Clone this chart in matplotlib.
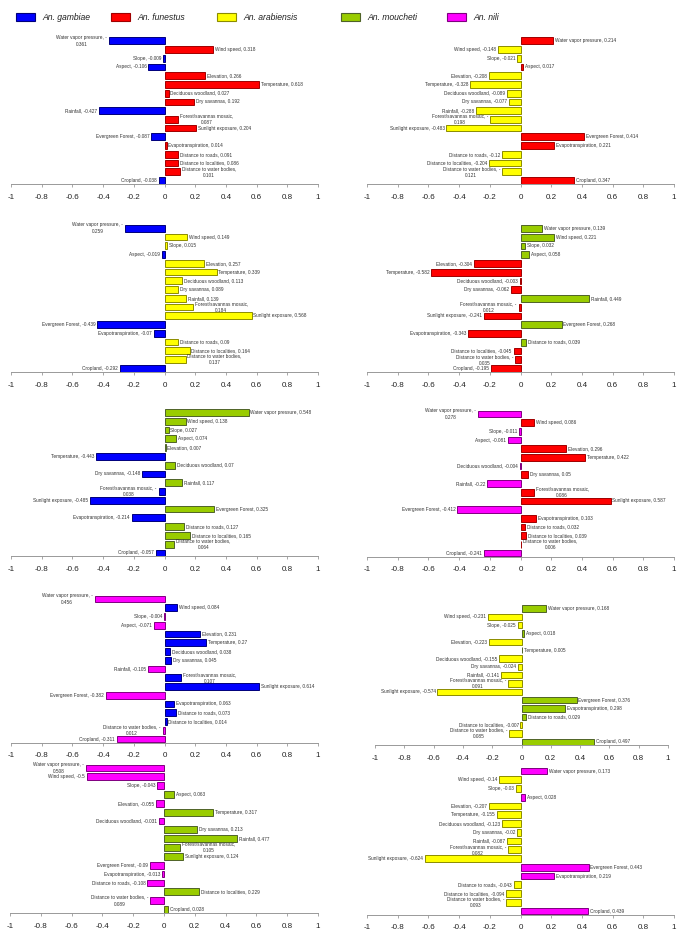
import matplotlib
matplotlib.use('Agg')
import matplotlib.pyplot as plt
from matplotlib.patches import Rectangle

plt.rcParams['font.family'] = ['Liberation Sans', 'DejaVu Sans']
plt.rcParams['axes.unicode_minus'] = False

# ---- data ----
variables = ["Water vapor pressure", "Wind speed", "Slope", "Aspect", "Elevation",
             "Temperature", "Deciduous woodland", "Dry savannas", "Rainfall",
             "Forest/savannas mosaic", "Sunlight exposure", "Evergreen Forest",
             "Evapotranspiration", "Distance to roads", "Distance to localities",
             "Distance to water bodies", "Cropland"]

species = ["An. gambiae", "An. funestus", "An. arabiensis", "An. moucheti", "An. nili"]

gambiae_funestus = [-0.361, 0.318, -0.009, -0.106, 0.266, 0.618, 0.027, 0.192, -0.427,
                    0.087, 0.204, -0.087, 0.014, 0.091, 0.086, 0.101, -0.038]
funestus_arabiensis = [0.214, -0.148, -0.021, 0.017, -0.208, -0.328, -0.089, -0.077, -0.288,
                       -0.198, -0.483, 0.414, 0.221, -0.12, -0.204, -0.121, 0.347]
gambiae_arabiensis = [-0.259, 0.149, 0.015, -0.019, 0.257, 0.339, 0.113, 0.089, 0.139,
                      0.184, 0.568, -0.439, -0.07, 0.09, 0.164, 0.137, -0.292]
moucheti_funestus = [0.139, 0.221, 0.032, 0.058, -0.304, -0.582, -0.003, -0.062, 0.449,
                     -0.012, -0.241, 0.268, -0.343, 0.039, -0.045, -0.035, -0.195]
gambiae_moucheti = [0.548, 0.138, 0.027, 0.074, 0.007, -0.443, 0.07, -0.148, 0.117,
                    -0.038, -0.485, 0.325, -0.214, 0.127, 0.165, 0.064, -0.057]
nili_funestus = [-0.278, 0.086, -0.011, -0.081, 0.296, 0.422, -0.004, 0.05, -0.22,
                 0.086, 0.587, -0.412, 0.103, 0.032, 0.039, 0.006, -0.241]
nili_gambiae = [-0.456, 0.084, -0.004, -0.071, 0.231, 0.27, 0.038, 0.045, -0.105,
                0.107, 0.614, -0.382, 0.063, 0.073, 0.014, -0.012, -0.311]
moucheti_arabiensis = [0.168, -0.231, -0.025, 0.018, -0.223, 0.005, -0.155, -0.024, -0.141,
                       -0.091, -0.574, 0.376, 0.298, 0.029, -0.007, -0.085, 0.497]
nili_moucheti = [-0.508, -0.5, -0.043, 0.063, -0.055, 0.317, -0.031, 0.213, 0.477,
                 0.105, 0.124, -0.09, -0.013, -0.108, 0.229, -0.089, 0.028]
nili_arabiensis = [0.173, -0.14, -0.03, 0.028, -0.207, -0.155, -0.123, -0.02, -0.087,
                   -0.082, -0.624, 0.443, 0.219, -0.043, -0.094, -0.093, 0.439]

xticks = [-1, -0.8, -0.6, -0.4, -0.2, 0, 0.2, 0.4, 0.6, 0.8, 1]
xtick_labels = ["-1", "-0.8", "-0.6", "-0.4", "-0.2", "0", "0.2", "0.4", "0.6", "0.8", "1"]

# ---- styles ----
fill = {"An. gambiae": "#0000FF", "An. funestus": "#FF0000", "An. arabiensis": "#FFFF00",
        "An. moucheti": "#99CC00", "An. nili": "#FF00FF"}
edge = {"An. gambiae": "#00007A", "An. funestus": "#A00000", "An. arabiensis": "#8C8C00",
        "An. moucheti": "#4F6228", "An. nili": "#7F007F"}

# (values, positive species, negative species, wvp centre y px, row spacing px, x(-1) px, x(1) px)
panels = [
    (gambiae_funestus, "An. funestus", "An. gambiae", 40.7, 8.74, 11, 318),
    (funestus_arabiensis, "An. funestus", "An. arabiensis", 40.7, 8.74, 367, 674),
    (gambiae_arabiensis, "An. arabiensis", "An. gambiae", 228.3, 8.75, 11, 318),
    (moucheti_funestus, "An. moucheti", "An. funestus", 228.5, 8.75, 367, 674),
    (gambiae_moucheti, "An. moucheti", "An. gambiae", 412.5, 8.78, 11, 318),
    (nili_funestus, "An. funestus", "An. nili", 414.0, 8.69, 367, 674),
    (nili_gambiae, "An. gambiae", "An. nili", 599.0, 8.75, 11, 318),
    (moucheti_arabiensis, "An. moucheti", "An. arabiensis", 608.5, 8.33, 375, 668),
    (nili_moucheti, "An. moucheti", "An. nili", 768.0, 8.84, 10, 318),
    (nili_arabiensis, "An. nili", "An. arabiensis", 771.0, 8.75, 367, 674),
]

W, H = 685, 938
fig = plt.figure(figsize=(W / 100, H / 100), dpi=100)

wrap_always = ("Forest/savannas mosaic", "Distance to water bodies")

for vals, pos_sp, neg_sp, wvp_y, s, x0, x1 in panels:
    top = wvp_y - 0.6 * s
    h = 17.0 * s
    ax = fig.add_axes([x0 / W, 1 - (top + h) / H, (x1 - x0) / W, h / H])
    ypos = list(range(len(variables)))
    cols = [fill[pos_sp] if v >= 0 else fill[neg_sp] for v in vals]
    ecols = [edge[pos_sp] if v >= 0 else edge[neg_sp] for v in vals]
    ax.barh(ypos, vals, height=0.77, color=cols, edgecolor=ecols, linewidth=0.7)
    ax.set_xlim(-1, 1)
    ax.set_ylim(16.4, -0.6)
    ax.set_yticks([])
    ax.set_xticks(xticks)
    ax.set_xticklabels(xtick_labels)
    ax.tick_params(axis='x', length=2.5, width=0.6, color='#999999', pad=4.5,
                   labelsize=5.8, labelcolor='#222222')
    for side in ('top', 'left', 'right'):
        ax.spines[side].set_visible(False)
    ax.spines['bottom'].set_color('#999999')
    ax.spines['bottom'].set_linewidth(0.7)
    ax.patch.set_alpha(0)

    for name, v, y in zip(variables, vals, ypos):
        wrap = name in wrap_always or (name == "Water vapor pressure" and v < 0)
        if wrap:
            if v < 0:
                lbl = f"{name}, -\n{abs(v):g}"
            else:
                lbl = f"{name},\n{v:g}"
        else:
            lbl = f"{name}, {v:g}"
        off = 1.3 if v >= 0 else -1.3
        ax.annotate(lbl, (v, y), xytext=(off, 0), textcoords='offset points',
                    ha='left' if v >= 0 else 'right', va='center',
                    multialignment='center', fontsize=3.4, color='#333333',
                    linespacing=1.45)

# ---- legend across the top ----
legend_x = [16, 111, 217, 341, 447]
for sp, lx in zip(species, legend_x):
    fig.add_artist(Rectangle((lx / W, 1 - 20.7 / H), 19 / W, 7.4 / H,
                             transform=fig.transFigure, facecolor=fill[sp],
                             edgecolor=edge[sp], linewidth=0.8))
    fig.text((lx + 26) / W, 1 - 17.2 / H, sp, fontsize=6.2, style='italic',
             va='center', ha='left', color='#222222')

fig.savefig('out.png', dpi=100)
